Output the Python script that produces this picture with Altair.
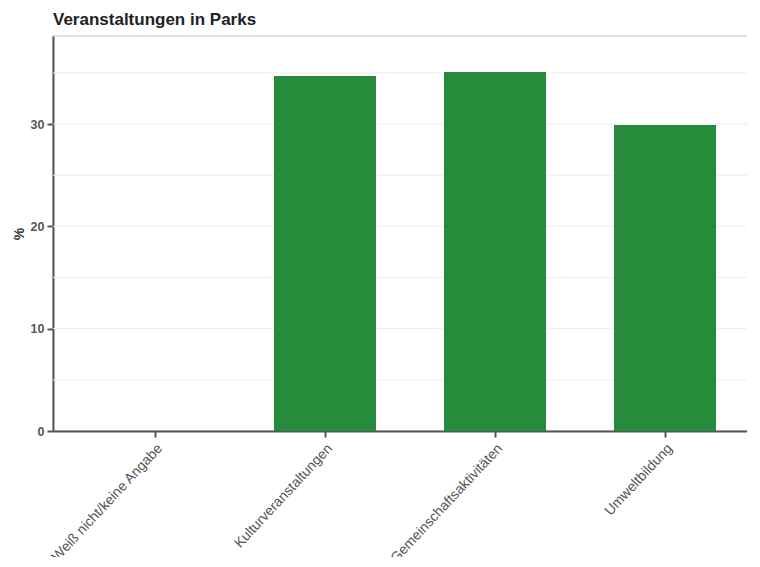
import altair as alt
import pandas as pd

categories = ["Weiß nicht/keine Angabe", "Kulturveranstaltungen", "Gemeinschaftsaktivitäten", "Umweltbildung"]
values = [0.0, 34.7, 35.1, 29.9]
grid_values = [5, 10, 15, 20, 25, 30, 35]
y_ticks = [0, 10, 20, 30]

df = pd.DataFrame({"Kategorie": categories, "value": values})
gdf = pd.DataFrame({"value": grid_values})

y_scale = alt.Scale(domain=[0, max(values) * 1.1], nice=False)
y_axis = alt.Axis(
    values=y_ticks, grid=False, title="%",
    domainColor="#555555", domainWidth=2, tickColor="#555555", tickWidth=2, tickSize=6,
    labelColor="#555555", labelFontWeight="bold", labelFontSize=12.5, labelPadding=3,
    titleFontSize=14, titleFontWeight="bold", titleColor="#333333", titlePadding=4,
)

grid = alt.Chart(gdf).mark_rule(color="#ededed", strokeWidth=1).encode(
    y=alt.Y("value:Q", scale=y_scale, axis=y_axis)
)

bars = alt.Chart(df).mark_bar(color="#268c3c").encode(
    x=alt.X(
        "Kategorie:N", sort=categories, title=None,
        scale=alt.Scale(paddingInner=0.4, paddingOuter=0.3),
        axis=alt.Axis(
            labelAngle=-47, labelFontSize=14, labelColor="#555555", labelPadding=4,
            labelBaseline="top", labelAlign="right",
            domainColor="#555555", domainWidth=2, tickColor="#555555", tickWidth=2, tickSize=6,
            labelLimit=400,
        ),
    ),
    y=alt.Y("value:Q", scale=y_scale, axis=y_axis),
)

chart = alt.layer(grid, bars).properties(
    width=714, height=395,
    autosize=alt.AutoSizeParams(type="none"),
    padding={"left": 45, "top": 28, "right": -20, "bottom": 126},
    title=alt.TitleParams("Veranstaltungen in Parks", anchor="start", frame="group", fontSize=17,
                          fontWeight="bold", color="#222222", offset=7),
).configure(font="Liberation Sans").configure_view(stroke="#d9d9d9", strokeWidth=1.5)

chart.save("out.html", embed_options={"renderer": "svg", "actions": False})
